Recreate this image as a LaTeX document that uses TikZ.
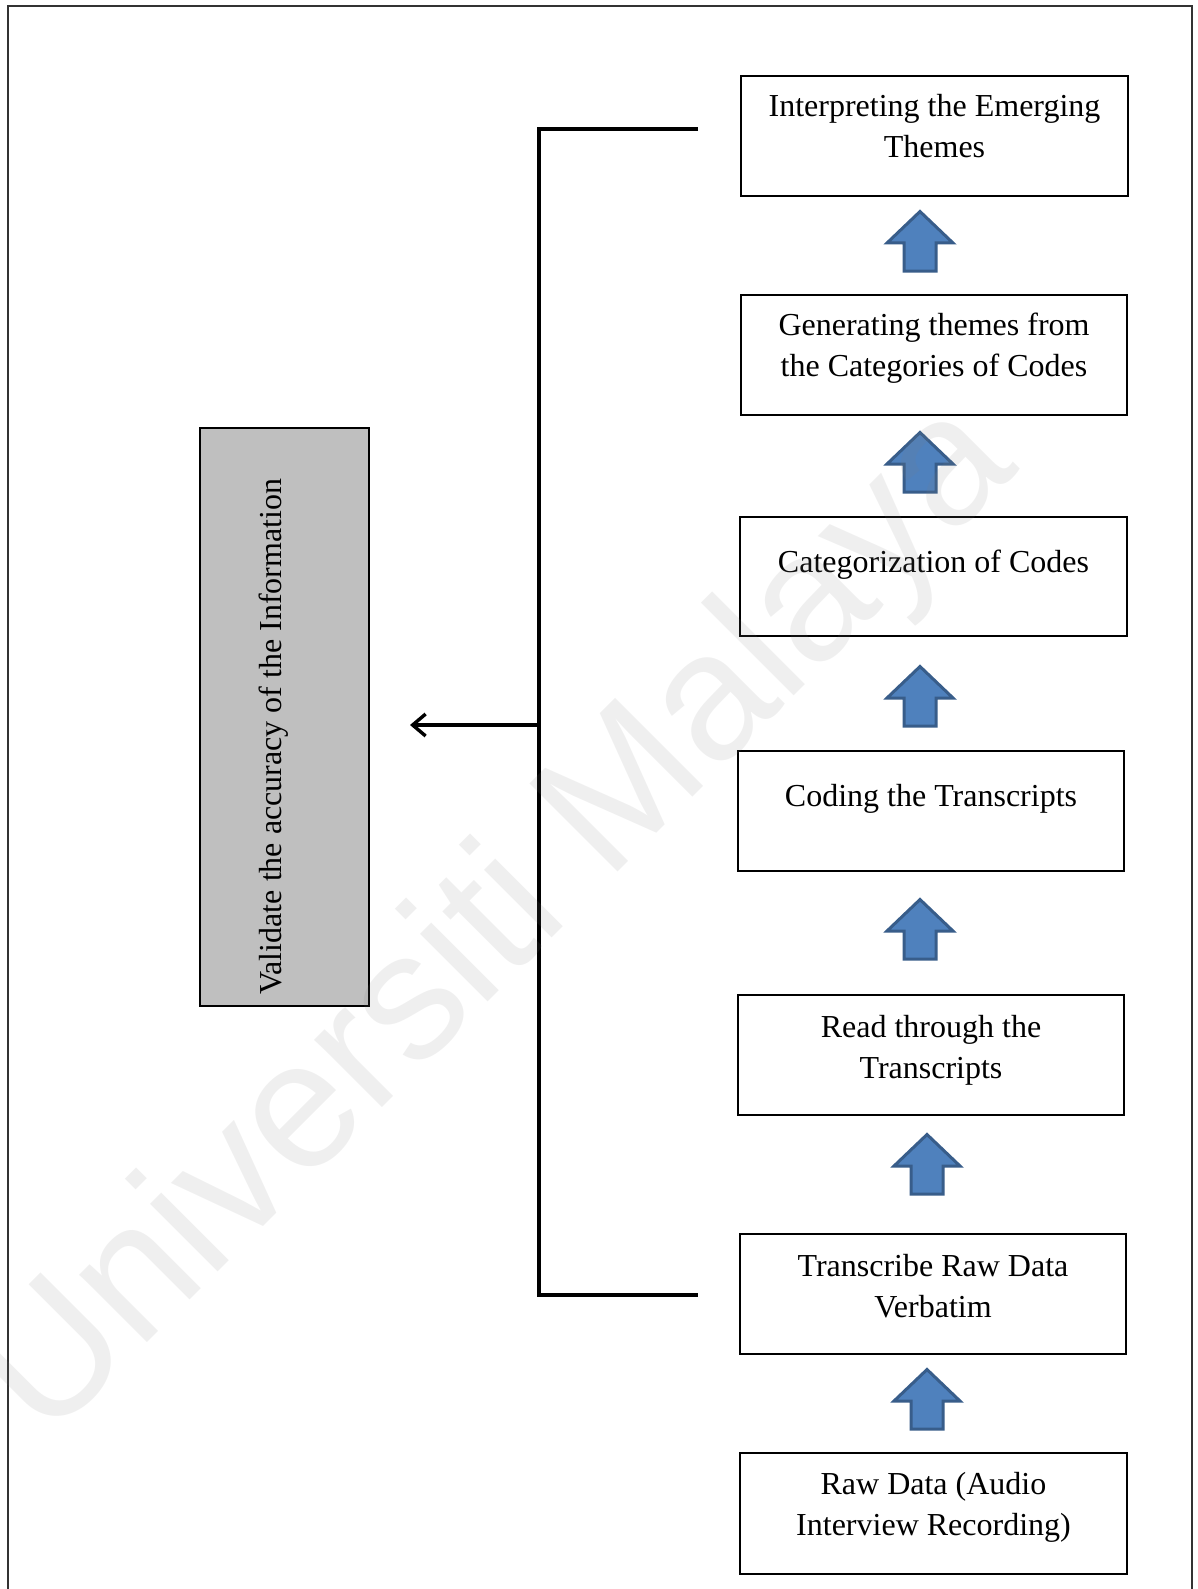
\documentclass[tikz,border=0pt]{standalone}
\usepackage{fontspec}
\setmainfont{Liberation Serif}
\newfontfamily\wmfont{Liberation Sans}
\usetikzlibrary{arrows.meta}

\definecolor{blockblue}{HTML}{4F81BD}
\definecolor{blockedge}{HTML}{385D8A}
\definecolor{validgray}{HTML}{BFBFBF}

\tikzset{
  stepbox/.style={draw=black, line width=1.5pt, fill=white, inner sep=0pt, outer sep=0pt},
  steptext/.style={align=center, inner sep=0pt, anchor=north,
                   font=\fontsize{32}{41.7}\selectfont},
  bracketline/.style={line width=3.4pt, line cap=butt, line join=miter},
  upblock/.pic={
    \draw[fill=blockblue, draw=blockedge, line width=3pt, line join=miter]
      (0,1.5) -- (33,33) -- (16,33) -- (16,61) -- (-16,61) -- (-16,33) -- (-33,33) -- cycle;
  }
}

% place a step box from its corners, with its text starting at a given baseline
\newcommand{\stepnode}[7]{%
  \node[stepbox, minimum width={#4-#2}, minimum height={#5-#3}]
    (#1) at ({(#2+#4)/2},{(#3+#5)/2}) {};
  \node[steptext] (#1-t) at ({(#2+#4)/2},{#3+#6-29.2}) {\strut #7};
}

\begin{document}
\begin{tikzpicture}[x=1pt, y=-1pt]
  \useasboundingbox (0,0) rectangle (1197,1589);
  \fill[white] (0,0) rectangle (1197,1589);

  % page frame, open at the bottom
  \draw[line width=1.5pt, draw=black!80] (8,1589) -- (8,6) -- (1192,6) -- (1192,1589);

  % process steps, bottom to top
  \stepnode{s1}{741}{76}{1128}{196}{40}{Interpreting the Emerging\\Themes}
  \stepnode{s2}{741}{295}{1127}{415}{40}{Generating themes from\\the Categories of Codes}
  \stepnode{s3}{740}{517}{1127}{636}{55}{Categorization of Codes}
  \stepnode{s4}{738}{751}{1124}{871}{55}{Coding the Transcripts}
  \stepnode{s5}{738}{995}{1124}{1115}{42}{Read through the\\Transcripts}
  \stepnode{s6}{740}{1234}{1126}{1354}{42}{Transcribe Raw Data\\Verbatim}
  \stepnode{s7}{740}{1453}{1127}{1574}{41}{Raw Data (Audio\\Interview Recording)}

  % block arrows between the steps
  \pic at (920,210) {upblock};
  \pic at (920,431) {upblock};
  \pic at (920,665) {upblock};
  \pic at (920,898) {upblock};
  \pic at (927,1133) {upblock};
  \pic at (927,1368) {upblock};

  % validation box
  \node[draw=black, line width=1.5pt, fill=validgray, minimum width=169, minimum height=578,
        inner sep=0pt, outer sep=0pt] (valid) at (284.5,717) {};
  \node[anchor=base west, rotate=90, inner sep=0pt,
        font=\fontsize{32}{41.7}\selectfont] (valid-t) at (281,995)
        {Validate the accuracy of the Information};

  % bracket spanning the steps, with the arrow to the validation box
  \coordinate (brtop) at (698,129);
  \coordinate (brcorner1) at (539,129);
  \coordinate (brcorner2) at (539,1295);
  \coordinate (brbot) at (698,1295);
  \coordinate (brmid) at (539,725);
  \coordinate (validtip) at (410,725);
  \draw[bracketline] (brtop) -- (brcorner1) -- (brcorner2) -- (brbot);
  \draw[bracketline, -{Straight Barb[length=13pt, width=22pt]}] (brmid) -- (validtip);

  % watermark
  \node[anchor=base west, rotate=45, inner sep=0pt, text=gray, text opacity=0.12,
        font=\wmfont\fontsize{181}{181}\selectfont] (wm) at (46,1444) {Universiti Malaya};
\end{tikzpicture}
\end{document}
